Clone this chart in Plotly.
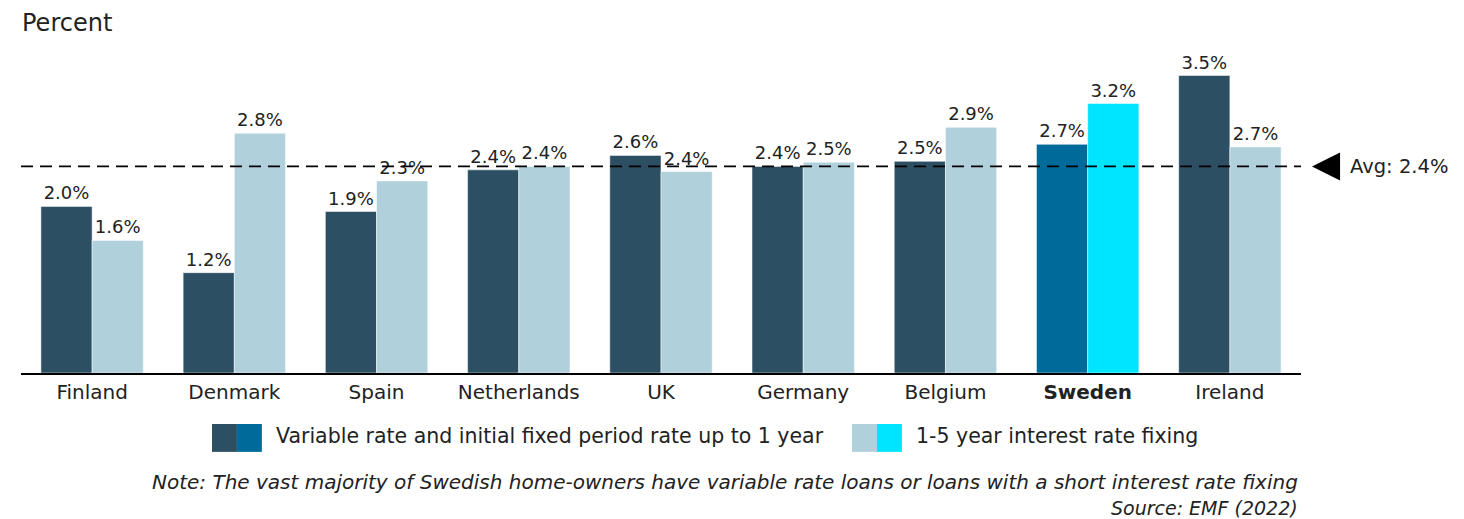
import plotly.graph_objects as go

countries = ["Finland", "Denmark", "Spain", "Netherlands", "UK", "Germany", "Belgium", "Sweden", "Ireland"]
variable_rate = [1.96, 1.18, 1.90, 2.39, 2.56, 2.43, 2.49, 2.69, 3.50]
fixed_1_5y = [1.56, 2.82, 2.26, 2.43, 2.37, 2.48, 2.89, 3.17, 2.66]
avg_rate = 2.43

FONT = "DejaVu Sans"
DARK, LIGHT = "#2c4f63", "#b0d1dc"
SWE_DARK, SWE_LIGHT = "#006b9a", "#00e5ff"

tick_text = [f"<b>{c}</b>" if c == "Sweden" else c for c in countries]
dark_cols = [SWE_DARK if c == "Sweden" else DARK for c in countries]
light_cols = [SWE_LIGHT if c == "Sweden" else LIGHT for c in countries]

fig = go.Figure()
fig.add_trace(go.Bar(
    x=countries, y=variable_rate, marker=dict(color=dark_cols, line=dict(width=0.5, color="white")),
    text=[f"{v:.1f}%" for v in variable_rate], textposition="outside", cliponaxis=False,
    textfont=dict(size=18, color="#222"), name="Variable rate and initial fixed period rate up to 1 year",
))
fig.add_trace(go.Bar(
    x=countries, y=fixed_1_5y, marker=dict(color=light_cols, line=dict(width=0.5, color="white")),
    text=[f"{v:.1f}%" for v in fixed_1_5y], textposition="outside", cliponaxis=False,
    textfont=dict(size=18, color="#222"), name="1-5 year interest rate fixing",
))

# average line + marker
fig.add_shape(type="line", xref="paper", yref="y", x0=0, x1=1, y0=avg_rate, y1=avg_rate,
              line=dict(color="black", width=1.8, dash="12px,7px"))
fig.add_shape(type="path", xref="paper", yref="y",
              path=f"M 1.0086 {avg_rate} L 1.0305 {avg_rate + 0.165} L 1.0305 {avg_rate - 0.165} Z",
              fillcolor="black", line=dict(width=0))
fig.add_annotation(xref="paper", yref="y", x=1.037, y=avg_rate, text=f"Avg: {avg_rate:.1f}%",
                   showarrow=False, xanchor="left", font=dict(size=19.5, color="#222"))

# title
fig.add_annotation(xref="paper", yref="paper", x=-0.001, y=1.03, text="Percent", showarrow=False,
                   xanchor="left", yanchor="middle", font=dict(size=24, color="#222"))

# legend drawn by hand (split two-tone swatches)
legend_items = [
    (0.1492, DARK, SWE_DARK, "Variable rate and initial fixed period rate up to 1 year"),
    (0.6492, LIGHT, SWE_LIGHT, "1-5 year interest rate fixing"),
]
sw = 0.0195
for x0, c1, c2, label in legend_items:
    fig.add_shape(type="rect", xref="paper", yref="paper", x0=x0, x1=x0 + sw, y0=-0.232, y1=-0.15,
                  fillcolor=c1, line=dict(width=0))
    fig.add_shape(type="rect", xref="paper", yref="paper", x0=x0 + sw, x1=x0 + 2 * sw, y0=-0.232, y1=-0.15,
                  fillcolor=c2, line=dict(width=0))
    fig.add_annotation(xref="paper", yref="paper", x=x0 + 2 * sw + 0.0095, y=-0.185, text=label,
                       showarrow=False, xanchor="left", yanchor="middle", font=dict(size=20.5, color="#222"))

fig.add_annotation(xref="paper", yref="paper", x=0.999, y=-0.32,
                   text="<i>Note: The vast majority of Swedish home-owners have variable rate loans or loans with a short interest rate fixing</i>",
                   showarrow=False, xanchor="right", yanchor="middle", font=dict(size=20, color="#222"))
fig.add_annotation(xref="paper", yref="paper", x=0.999, y=-0.397, text="<i>Source: EMF (2022)</i>",
                   showarrow=False, xanchor="right", yanchor="middle", font=dict(size=19, color="#222"))

# page body adds an 8px offset, so the figure is 8px smaller than the window
fig.update_layout(
    width=1456, height=511, barmode="group", bargap=0.28, bargroupgap=0,
    margin=dict(l=13, r=163, t=25, b=146),
    plot_bgcolor="white", paper_bgcolor="white", showlegend=False,
    font=dict(family=FONT, color="#222"),
)
fig.update_xaxes(tickvals=countries, ticktext=tick_text, tickfont=dict(size=20, color="#222"),
                 showline=True, linecolor="black", linewidth=2, ticks="", showgrid=False)
fig.update_yaxes(range=[0, 4.0], visible=False, showgrid=False)

fig.write_html("out.html")
